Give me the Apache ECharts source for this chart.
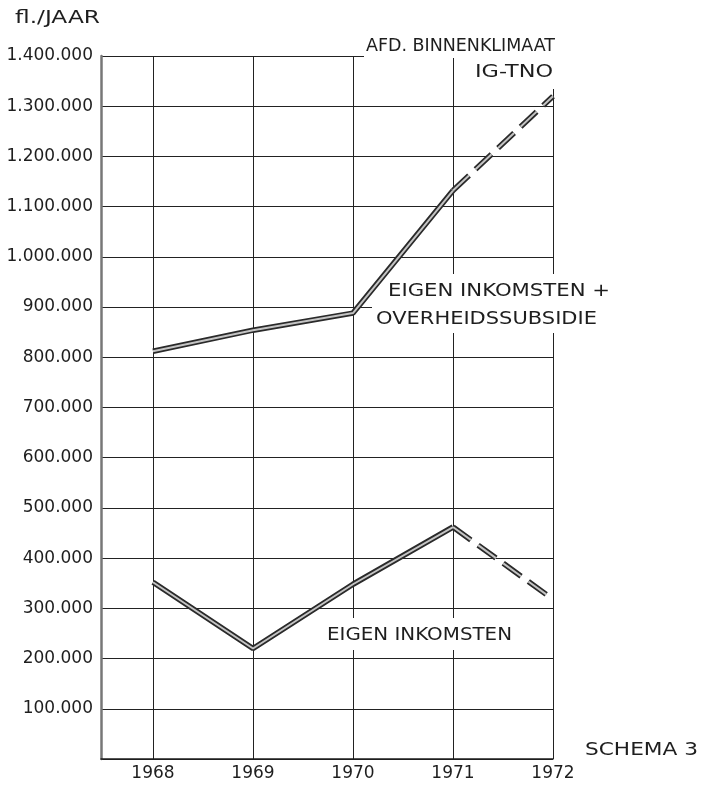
<!DOCTYPE html>
<html><head><meta charset="utf-8">
<script src="https://cdn.jsdelivr.net/npm/echarts@6/dist/echarts.min.js"></script>
<style>html,body{margin:0;padding:0;background:#fff}#c{width:704px;height:789px}</style>
</head><body><div id="c"></div>
<script>
// ---- data ----
const years = [1968, 1969, 1970, 1971, 1972];
const totaalInkomsten = [812000, 854000, 888000, 1132000, 1320000]; // eigen inkomsten + overheidssubsidie
const eigenInkomsten = [352000, 220000, 348000, 462000, 318000];
const lastActualYear = 1971; // after this year the lines are dashed (raming)
const yMax = 1400000;
const yStep = 100000;

// ---- helpers ----
function fmt(v) { return v === 0 ? '' : String(v).replace(/\B(?=(\d{3})+(?!\d))/g, '.'); }
function solidPart(vals) { return years.map((y, i) => y <= lastActualYear ? [y, vals[i]] : [y, null]); }
function dashPart(vals) { return years.map((y, i) => y >= lastActualYear ? [y, vals[i]] : [y, null]); }

const FONT = 'DejaVu Sans';
const INK = '#1e1e1e';
const mctx = document.createElement('canvas').getContext('2d');

// stencil-like lettering: stretch text horizontally to the lettering's width
function label(text, left, cy, width, size) {
  const font = size + 'px "DejaVu Sans"';
  mctx.font = font;
  const w = mctx.measureText(text).width;
  return { type: 'text', x: left, y: cy, scaleX: width / w, z: 2,
    style: { text: text, x: 0, y: 0, align: 'left', verticalAlign: 'middle', fill: INK, font: font } };
}
function cover(x, y, w, h) {
  return { type: 'rect', z: 1, shape: { x: x, y: y, width: w, height: h }, style: { fill: '#fff' } };
}

function lineLayers(name, vals) {
  const out = [];
  [[solidPart(vals), 'solid'], [dashPart(vals), [22, 9]]].forEach(([d, type]) => {
    out.push({ name: name, type: 'line', data: d, symbol: 'none', z: 5, silent: true,
      lineStyle: { color: '#2a2a2a', width: 5.5, type: type, cap: 'butt' } });
    out.push({ name: name, type: 'line', data: d, symbol: 'none', z: 6, silent: true,
      lineStyle: { color: '#c4c4c4', width: 2, type: type, cap: 'butt' } });
  });
  return out;
}

const chart = echarts.init(document.getElementById('c'), null, { renderer: 'canvas' });
const option = {
  animation: false,
  backgroundColor: '#fff',
  grid: { left: 101, right: 151, top: 56, bottom: 30, containLabel: false },
  xAxis: {
    type: 'value', min: 1967.48, max: 1972,
    axisLine: { show: true, onZero: false, lineStyle: { color: INK, width: 1.5 } },
    axisTick: { show: false },
    splitLine: { show: false },
    axisLabel: {
      customValues: years, margin: 6,
      formatter: v => (Number.isInteger(v) && years.includes(v)) ? String(v) : '',
      color: INK, fontFamily: FONT, fontSize: 17
    }
  },
  yAxis: {
    type: 'value', min: 0, max: yMax, interval: yStep,
    axisLine: { show: true, lineStyle: { color: '#777', width: 2.5 } },
    axisTick: { show: false },
    splitLine: { show: true, lineStyle: { color: '#222', width: 1 } },
    axisLabel: { formatter: fmt, margin: 8, color: INK, fontFamily: FONT, fontSize: 17 }
  },
  series: [
    { type: 'line', data: [], z: 0, silent: true,
      markLine: { silent: true, symbol: 'none', z: 0, label: { show: false },
        lineStyle: { color: '#222', width: 1, type: 'solid' },
        data: years.map(y => ({ xAxis: y })) } },
    ...lineLayers('Eigen inkomsten + overheidssubsidie', totaalInkomsten),
    ...lineLayers('Eigen inkomsten', eigenInkomsten)
  ],
  graphic: { elements: [
    label('fl./JAAR', 15, 18, 85, 18),
    cover(364, 34, 198, 24),
    cover(466, 58, 96, 31),
    label('AFD. BINNENKLIMAAT', 366, 46, 189, 18),
    label('IG-TNO', 475, 72, 78, 18),
    cover(372, 274, 246, 59),
    label('EIGEN INKOMSTEN +', 388, 291, 222, 18),
    label('OVERHEIDSSUBSIDIE', 376, 319, 221, 18),
    cover(322, 618, 196, 32),
    label('EIGEN INKOMSTEN', 327, 635, 185, 18),
    label('SCHEMA 3', 585, 750, 113, 18)
  ] }
};
chart.setOption(option);
</script>
</body></html>
